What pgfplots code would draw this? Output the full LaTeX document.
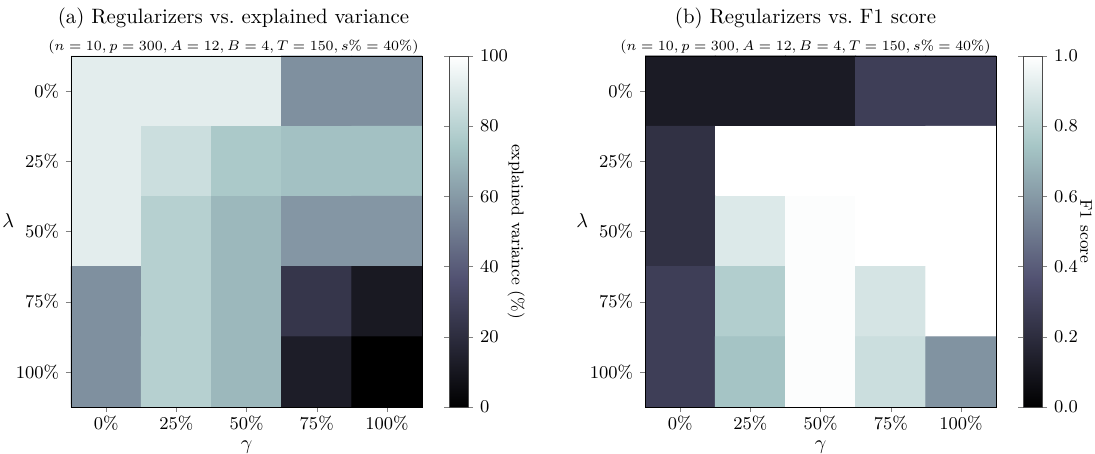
\documentclass[border=0pt]{standalone}
\usepackage{pgfplots}
\pgfplotsset{compat=1.18}
\pgfplotsset{
 colormap={bone}{rgb(0)=(0,0,0) rgb(365)=(0.319444,0.319444,0.444444) rgb(746)=(0.652778,0.777778,0.777778) rgb(1000)=(1,1,1)},
 hm/.style={
  width=175.5pt, height=175.5pt, scale only axis,
  colormap name=bone,
  xmin=-0.5, xmax=4.5, ymin=-0.5, ymax=4.5, y dir=reverse,
  xtick={0,...,4}, ytick={0,...,4},
  xticklabels={0\%,25\%,50\%,75\%,100\%},
  yticklabels={0\%,25\%,50\%,75\%,100\%},
  tick align=outside, xtick pos=left, ytick pos=left,
  major tick length=2.5pt,
  tick label style={font=\fontsize{9}{10}\selectfont},
  xticklabel shift=-1.5pt,
  xlabel={$\gamma$}, ylabel={$\lambda$},
  xlabel shift=-1.5pt,
  ylabel shift=-6pt,
  ylabel style={rotate=-90, yshift=5.5pt},
  label style={font=\fontsize{10}{12}\selectfont},
  title style={align=center, yshift=-8.5pt},
  axis on top,
  colorbar,
 },
 cb/.style 2 args={
  colorbar style={
   at={(parent axis.north east)}, anchor=north west, xshift=5pt,
   width=9.5pt, height=175.5pt, scale only axis,
   tick align=outside, major tick length=2.5pt,
   axis line style={black!70},
   yticklabel style={font=\fontsize{9}{10}\selectfont},
   ylabel style={at={(axis description cs:#1,0.5)}, anchor=center, rotate=180, font=\fontsize{8.5}{10}\selectfont},
   #2
  }
 }
}
\pgfplotstableread{
x y c
0 0 92
1 0 92
2 0 92
3 0 57
4 0 57
0 1 92
1 1 85
2 1 76
3 1 73
4 1 73
0 2 92
1 2 79
2 2 70
3 2 59
4 2 59
0 3 57
1 3 79
2 3 70
3 3 24
4 3 11
0 4 57
1 4 79
2 4 70
3 4 13
4 4 0
}\evtable
\pgfplotstableread{
x y c
0 0 0.12
1 0 0.12
2 0 0.12
3 0 0.28
4 0 0.28
0 1 0.22
1 1 1.00
2 1 1.00
3 1 1.00
4 1 1.00
0 2 0.22
1 2 0.90
2 2 0.99
3 2 1.00
4 2 1.00
0 3 0.28
1 3 0.78
2 3 0.99
3 3 0.88
4 3 1.00
0 4 0.28
1 4 0.74
2 4 0.99
3 4 0.85
4 4 0.58
}\fonetable
\begin{document}
\begin{tikzpicture}
\path[use as bounding box] (-35.5pt,-23.5pt) rectangle (512pt,203.5pt);
\begin{axis}[hm,
  point meta min=0, point meta max=100,
  title style={xshift=-6.5pt},
  title={\fontsize{10.4}{12}\selectfont (a) Regularizers vs.\ explained variance\\[1.5pt]\fontsize{6.6}{8}\selectfont $(n=10,p=300,A=12,B=4,T=150,s\%=40\%)$},
  cb={3.53}{ytick={0,20,...,100}, ylabel={explained variance (\%)}}]
\addplot[matrix plot*, mesh/cols=5, point meta=explicit] table[x=x, y=y, meta=c] {\evtable};
\end{axis}
\begin{axis}[hm, at={(287pt,0pt)},
  point meta min=0, point meta max=1,
  title style={xshift=-7.5pt},
  title={\fontsize{10.4}{12}\selectfont (b) Regularizers vs.\ F1 score\\[1.5pt]\fontsize{6.6}{8}\selectfont $(n=10,p=300,A=12,B=4,T=150,s\%=40\%)$},
  cb={3.32}{ytick={0,0.2,...,1.0}, ylabel={F1 score},
      yticklabel style={/pgf/number format/.cd, fixed, fixed zerofill, precision=1}}]
\addplot[matrix plot*, mesh/cols=5, point meta=explicit] table[x=x, y=y, meta=c] {\fonetable};
\end{axis}
\end{tikzpicture}
\end{document}
